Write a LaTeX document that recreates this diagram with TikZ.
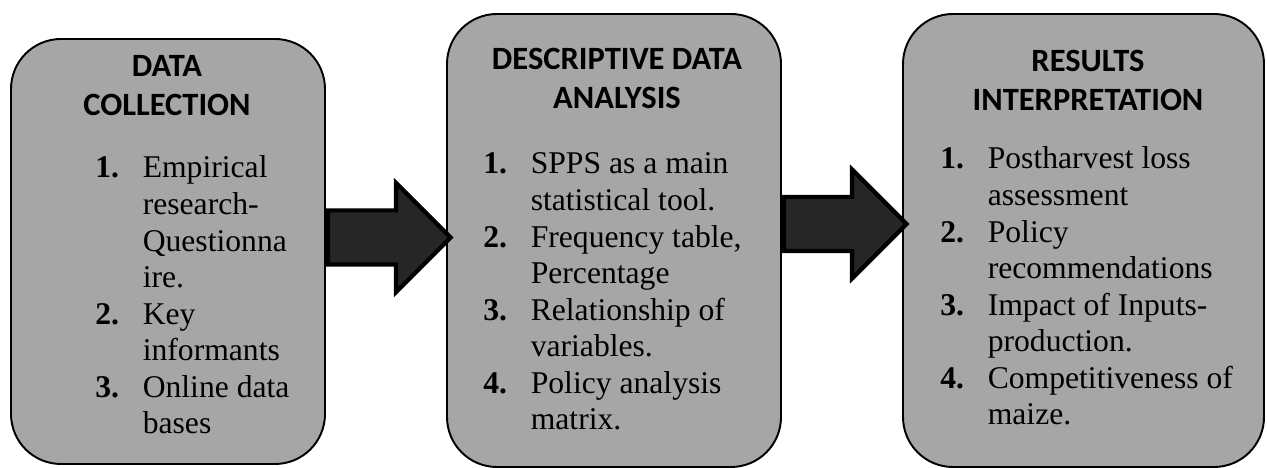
\documentclass[tikz,border=0pt]{standalone}
\usepackage{fontspec}
\setmainfont{Liberation Serif}
\newfontfamily\calibri{Carlito}
\usepackage{xcolor}
\usepackage{tikz}
\usetikzlibrary{
    shapes.arrows,
    positioning
}
\definecolor{boxgray}{HTML}{A6A6A6}
\definecolor{arrowdark}{HTML}{262626}
\newcommand{\steptitle}[1]{\begin{tabular}[t]{@{}c@{}}#1\end{tabular}}
\newcommand{\steplist}[1]{\begin{tabular}[t]{@{}p{27pt}@{}l@{}}#1\end{tabular}}

\begin{document}
\begin{tikzpicture}
    \tikzstyle{stage}=[draw, line width=1.1pt, fill=boxgray, rounded corners=1cm, inner sep=0pt]
    \tikzstyle{bigarrow}=[draw, line width=2.4pt, fill=arrowdark, shape=single arrow, single arrow head extend=0.55cm, inner xsep=0pt, inner ysep=0.5cm, minimum height=2.45cm, anchor=tail]
    \tikzstyle{stagetitle}=[anchor=base, inner sep=0pt, font=\calibri\bfseries\fontsize{18.5}{22}\selectfont]
    \tikzstyle{stagelist}=[anchor=base west, inner sep=0pt, font=\fontsize{18}{20.8}\selectfont]
    \useasboundingbox (0,0) rectangle (25.34,9.36);
    \node[stage, minimum width=6.28cm, minimum height=8.5cm] (collect) at (3.36, 4.33){};
    \node[stage, minimum width=6.68cm, minimum height=9.06cm] (analysis) at (12.28, 4.55){};
    \node[stage, minimum width=7.22cm, minimum height=9.06cm] (results) at (21.67, 4.55){};
    \node[stagetitle] (collecttitle) at (3.34, 7.82){\steptitle{DATA\\COLLECTION}};
    \node[stagetitle] (analysistitle) at (12.34, 7.96){\steptitle{DESCRIPTIVE DATA\\ANALYSIS}};
    \node[stagetitle] (resultstitle) at (21.76, 7.92){\steptitle{RESULTS\\INTERPRETATION}};
    \node[stagelist] (collectlist) at (1.9, 5.8){\steplist{
        \textbf{1.} & Empirical\\
         & research-\\
         & Questionna\\
         & ire.\\
        \textbf{2.} & Key\\
         & informants\\
        \textbf{3.} & Online data\\
         & bases}};
    \node[stagelist] (analysislist) at (9.66, 5.88){\steplist{
        \textbf{1.} & SPPS as a main\\
         & statistical tool.\\
        \textbf{2.} & Frequency table,\\
         & Percentage\\
        \textbf{3.} & Relationship of\\
         & variables.\\
        \textbf{4.} & Policy analysis\\
         & matrix.}};
    \node[stagelist] (resultslist) at (18.8, 5.98){\steplist{
        \textbf{1.} & Postharvest loss\\
         & assessment\\
        \textbf{2.} & Policy\\
         & recommendations\\
        \textbf{3.} & Impact of Inputs-\\
         & production.\\
        \textbf{4.} & Competitiveness of\\
         & maize.}};
    \node[bigarrow] (arrowone) at ([yshift=0.28cm]collect.east){};
    \node[bigarrow] (arrowtwo) at ([yshift=0.33cm]analysis.east){};
\end{tikzpicture}
\end{document}
